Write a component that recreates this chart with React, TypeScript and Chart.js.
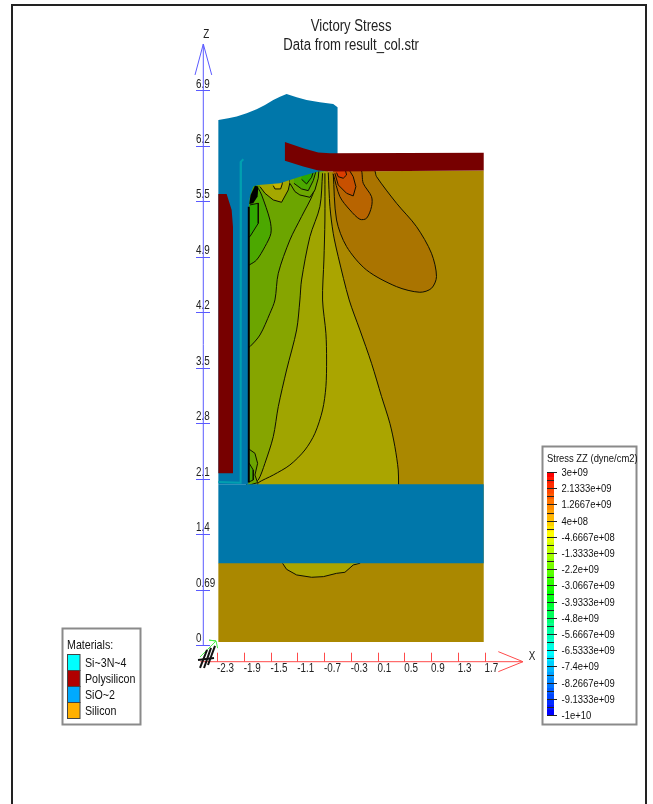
import React, { useEffect, useRef } from "react";
import { Chart, registerables } from "chart.js";

Chart.register(...registerables);

type Pt = [number, number];

const titleLines = ["Victory Stress", "Data from result_col.str"];
const xTickValues = [-2.3, -1.9, -1.5, -1.1, -0.7, -0.3, 0.1, 0.5, 0.9, 1.3, 1.7];
const xTickLabels = ["-2.3", "-1.9", "-1.5", "-1.1", "-0.7", "-0.3", "0.1", "0.5", "0.9", "1.3", "1.7"];
const zTickValues = [0, 0.69, 1.38, 2.07, 2.76, 3.45, 4.14, 4.83, 5.52, 6.21, 6.9];
const zTickLabels = ["0", "0.69", "1.4", "2.1", "2.8", "3.5", "4.2", "4.9", "5.5", "6.2", "6.9"];
const materialNames = ["Si~3N~4", "Polysilicon", "SiO~2", "Silicon"];
const materialColors = ["#00ffff", "#b00000", "#00aaff", "#ffb000"];
const stressLabels = ["3e+09", "2.1333e+09", "1.2667e+09", "4e+08", "-4.6667e+08", "-1.3333e+09", "-2.2e+09", "-3.0667e+09", "-3.9333e+09", "-4.8e+09", "-5.6667e+09", "-6.5333e+09", "-7.4e+09", "-8.2667e+09", "-9.1333e+09", "-1e+10"];

// material outlines (x, z)
const silicon: Pt[] = [[-1.683, 5.722], [-1.359, 5.742], [-1.061, 5.825], [-0.787, 5.888], [-0.612, 5.888], [1.687, 5.9], [1.687, 0.037], [-2.28, 0.037], [-2.28, 1.02], [-1.832, 1.02], [-1.832, 2.0], [-1.832, 5.369], [-1.808, 5.577], [-1.758, 5.701]];
const oxideUpper: Pt[] = [[-2.28, 6.53], [-2.131, 6.551], [-2.006, 6.572], [-1.857, 6.613], [-1.708, 6.663], [-1.583, 6.717], [-1.459, 6.779], [-1.359, 6.82], [-1.26, 6.854], [-1.11, 6.812], [-0.961, 6.779], [-0.762, 6.75], [-0.563, 6.729], [-0.498, 6.688], [-0.498, 5.9], [-0.787, 5.888], [-1.061, 5.825], [-1.359, 5.742], [-1.683, 5.722], [-1.758, 5.701], [-1.808, 5.577], [-1.832, 5.369], [-1.832, 2.0], [-2.28, 2.0]];
const oxideBand: Pt[] = [[-2.28, 2.0], [1.687, 2.0], [1.687, 1.016], [-2.28, 1.016]];
const polyRight: Pt[] = [[-1.285, 6.256], [-1.011, 6.178], [-0.787, 6.124], [-0.612, 6.116], [1.687, 6.123], [1.687, 5.9], [-0.612, 5.888], [-0.787, 5.9], [-1.011, 5.95], [-1.285, 6.024]];
const polyLeft: Pt[] = [[-2.28, 5.61], [-2.156, 5.61], [-2.081, 5.411], [-2.061, 5.203], [-2.061, 2.135], [-2.28, 2.135]];
const nitride: Pt[] = [[-1.907, 6.041], [-1.942, 6.012], [-1.947, 2.019], [-2.28, 2.027]];

// stress contours (x, z)
const wallTop: Pt[] = [[-1.85, 1.98], [-1.85, 5.45], [-1.75, 5.8], [-1.36, 5.85], [-1.06, 5.95], [-0.64, 6.0]];
const contourA: Pt[] = [[-0.637, 5.875], [-0.612, 5.452], [-0.563, 5.121], [-0.488, 4.83], [-0.324, 4.291], [-0.164, 3.918], [0.01, 3.503], [0.16, 3.089], [0.284, 2.757], [0.359, 2.467], [0.409, 2.177], [0.414, 2.002], [0.414, 1.98]];
const contourB: Pt[] = [[-0.687, 5.867], [-0.687, 5.286], [-0.702, 4.789], [-0.722, 4.291], [-0.672, 3.876], [-0.662, 3.545], [-0.672, 3.213], [-0.722, 2.923], [-0.836, 2.633], [-0.986, 2.425], [-1.21, 2.239], [-1.459, 2.114], [-1.683, 2.019], [-1.7, 1.98]];
const contourC: Pt[] = [[-0.722, 5.867], [-0.762, 5.452], [-0.911, 5.079], [-1.036, 4.54], [-1.061, 4.291], [-1.11, 3.918], [-1.26, 3.42], [-1.384, 2.964], [-1.459, 2.591], [-1.584, 2.259], [-1.683, 2.052], [-1.758, 2.019], [-1.78, 1.98]];
const contourD: Pt[] = [[-0.787, 5.867], [-0.861, 5.618], [-1.036, 5.328], [-1.21, 5.038], [-1.384, 4.623], [-1.434, 4.291], [-1.509, 4.125], [-1.658, 3.856], [-1.808, 3.711], [-1.85, 3.7]];
const contourE: Pt[] = [[-1.683, 5.68], [-1.633, 5.597], [-1.509, 5.286], [-1.494, 5.121], [-1.583, 4.955], [-1.708, 4.789], [-1.818, 4.727], [-1.85, 4.72], [-1.85, 5.45], [-1.75, 5.8]];
const contourE2: Pt[] = [[-1.808, 5.473], [-1.683, 5.494], [-1.683, 5.245], [-1.808, 5.079], [-1.85, 5.07], [-1.85, 5.47]];
const contourF: Pt[] = [[-1.658, 5.701], [-1.583, 5.618], [-1.459, 5.535], [-1.335, 5.506], [-1.235, 5.659], [-1.21, 5.751], [-1.21, 5.85], [-1.658, 5.85]];
const contourF2: Pt[] = [[-1.459, 5.713], [-1.434, 5.672], [-1.349, 5.672], [-1.325, 5.734], [-1.325, 5.8], [-1.459, 5.8]];
const contourG: Pt[] = [[-1.21, 5.742], [-1.135, 5.639], [-1.061, 5.597], [-0.911, 5.568], [-0.836, 5.659], [-0.787, 5.805], [-0.772, 5.95], [-1.21, 5.95]];
const contourH: Pt[] = [[-1.15, 5.742], [-1.036, 5.672], [-0.936, 5.651], [-0.861, 5.776], [-0.822, 5.888], [-0.822, 5.95], [-1.15, 5.95]];
const contourI: Pt[] = [[-1.036, 5.792], [-0.961, 5.734], [-0.886, 5.817], [-0.851, 5.908], [-1.036, 5.908]];
const contourJ: Pt[] = [[-1.85, 2.434], [-1.818, 2.434], [-1.733, 2.384], [-1.693, 2.259], [-1.733, 2.114], [-1.693, 2.019], [-1.85, 1.98]];
const contourK: Pt[] = [[-1.85, 2.259], [-1.818, 2.259], [-1.758, 2.176], [-1.758, 2.052], [-1.818, 2.03], [-1.85, 2.03]];
const orange1: Pt[] = [[-0.563, 5.867], [-0.513, 5.286], [-0.363, 4.955], [-0.065, 4.664], [0.384, 4.457], [0.732, 4.387], [0.906, 4.436], [0.981, 4.582], [0.906, 4.872], [0.682, 5.203], [0.384, 5.494], [0.085, 5.825], [0.035, 5.929], [-0.563, 5.929]];
const orange2: Pt[] = [[-0.563, 5.858], [-0.463, 5.576], [-0.314, 5.411], [-0.164, 5.295], [-0.065, 5.307], [0.01, 5.452], [0.01, 5.576], [-0.114, 5.742], [-0.164, 5.929], [-0.563, 5.929]];
const orange3: Pt[] = [[-0.538, 5.867], [-0.488, 5.722], [-0.363, 5.618], [-0.264, 5.585], [-0.224, 5.701], [-0.264, 5.825], [-0.339, 5.929], [-0.538, 5.929]];
const orange4: Pt[] = [[-0.513, 5.875], [-0.488, 5.825], [-0.413, 5.805], [-0.363, 5.846], [-0.388, 5.929], [-0.513, 5.929]];
const bump: Pt[] = [[-1.32, 1.016], [-1.26, 0.941], [-1.11, 0.871], [-0.886, 0.842], [-0.71, 0.85], [-0.513, 0.891], [-0.388, 0.904], [-0.264, 0.995], [-0.164, 1.016], [-0.164, 1.05], [-1.32, 1.05]];
const blackWall: Pt[] = [[-1.84, 5.45], [-1.81, 5.45], [-1.81, 2.02], [-1.84, 2.02]];
const blackBlob: Pt[] = [[-1.733, 5.713], [-1.683, 5.701], [-1.693, 5.577], [-1.758, 5.494], [-1.818, 5.485], [-1.798, 5.597]];

// axes drawn in the same units
const xAxisLine: Pt[] = [[-2.55, -0.208], [2.274, -0.208]];
const xArrow: Pt[] = [[1.905, -0.083], [2.274, -0.208], [1.905, -0.332]];
const zAxisLine: Pt[] = [[-2.505, 0], [-2.505, 7.475]];
const zArrow: Pt[] = [[-2.629, 7.09], [-2.505, 7.475], [-2.379, 7.09]];
const originMarks: Pt[][] = [
  [[-2.554, -0.286], [-2.449, -0.062]],
  [[-2.494, -0.286], [-2.39, -0.037]],
  [[-2.435, -0.249], [-2.33, -0.012]],
  [[-2.584, -0.187], [-2.345, -0.162]],
];
const originArrow: Pt[] = [[-2.554, -0.149], [-2.315, 0.05], [-2.42, 0.06], [-2.315, 0.05], [-2.29, -0.04]];

const FONT = '"Liberation Sans", Arial, sans-serif';
const TEXT_SQUEEZE = 0.82;
const BLUE = "#5a5aff";
const RED = "#ff4a4a";

const fillShape = (pts: Pt[], color: string, border = 0, tension = 0) => ({
  data: pts.map(([x, y]) => ({ x, y })),
  showLine: true,
  fill: "shape",
  backgroundColor: color,
  borderColor: border ? "#101000" : color,
  borderWidth: border,
  tension,
  pointRadius: 0,
  clip: false as const,
});
const stroke = (pts: Pt[], color: string, width = 1) => ({
  data: pts.map(([x, y]) => ({ x, y })),
  showLine: true,
  fill: false,
  borderColor: color,
  borderWidth: width,
  pointRadius: 0,
  clip: false as const,
});

const SMOOTH = 0.3;
const painterOrder = [
  fillShape(silicon, "#aa8800"),
  fillShape([...contourA, ...wallTop], "#aaa500", 1, SMOOTH),
  fillShape([...contourB, ...wallTop], "#a0a500", 1, SMOOTH),
  fillShape([...contourC, ...wallTop], "#86a500", 1, SMOOTH),
  fillShape([...contourD, ...wallTop.slice(1)], "#6ca500", 1, SMOOTH),
  fillShape(contourE, "#4ca800", 1, SMOOTH),
  fillShape(contourE2, "#30a800", 1),
  fillShape(contourF, "#a4a800", 1),
  fillShape(contourF2, "#c4b400", 1),
  fillShape(contourG, "#6ca800", 1),
  fillShape(contourH, "#4ca800", 1),
  fillShape(contourI, "#2ca800", 1),
  fillShape(contourJ, "#6ca500", 1),
  fillShape(contourK, "#4ca800", 1),
  fillShape(orange1, "#aa7400", 1, SMOOTH),
  fillShape(orange2, "#b86400", 1, SMOOTH),
  fillShape(orange3, "#c85000", 1),
  fillShape(orange4, "#dc3c00", 1),
  fillShape(bump, "#aaa500", 1),
  fillShape(oxideUpper, "#0077aa"),
  fillShape(oxideBand, "#0077aa"),
  fillShape(polyLeft, "#770000"),
  fillShape(polyRight, "#770000"),
  stroke(nitride, "#00a0b0", 2),
  fillShape(blackWall, "#000000"),
  fillShape(blackBlob, "#000000"),
  stroke(xAxisLine, RED),
  stroke(xArrow, RED),
  stroke(zAxisLine, BLUE),
  stroke(zArrow, BLUE),
  stroke(originArrow, "#44ee44"),
  ...originMarks.map((m) => stroke(m, "#111111", 2)),
];
const datasets = painterOrder.map((d, i) => ({ ...d, order: painterOrder.length - i }));

const box = (ctx: CanvasRenderingContext2D, x: number, y: number, w: number, h: number) => {
  ctx.fillStyle = "#ffffff";
  ctx.fillRect(x, y, w, h);
  ctx.strokeStyle = "#8a8a8a";
  ctx.lineWidth = 2;
  ctx.strokeRect(x, y, w, h);
};

// the reference's labels are a condensed face; no such face is installed
const condensedText = {
  id: "condensedText",
  beforeDraw(chart: any) {
    const ctx = chart.ctx;
    if (ctx.__condensed) return;
    ctx.__condensed = true;
    const draw = ctx.fillText.bind(ctx);
    ctx.fillText = (text: string, x: number, y: number) => {
      ctx.save();
      ctx.translate(x, y);
      ctx.scale(TEXT_SQUEEZE, 1);
      draw(text, 0, 0);
      ctx.restore();
    };
  },
};

const decorations = {
  id: "decorations",
  afterDatasetsDraw(chart: any) {
    const { ctx, scales } = chart;
    const xs = scales.x;
    const zs = scales.y;
    ctx.save();
    // axis tick marks
    ctx.lineWidth = 1;
    ctx.strokeStyle = RED;
    const xBase = zs.getPixelForValue(-0.208);
    xTickValues.forEach((v) => {
      const p = Math.round(xs.getPixelForValue(v)) + 0.5;
      ctx.beginPath();
      ctx.moveTo(p, xBase - 9);
      ctx.lineTo(p, xBase);
      ctx.stroke();
    });
    ctx.strokeStyle = BLUE;
    zTickValues.forEach((v) => {
      const p = Math.round(zs.getPixelForValue(v)) + 0.5;
      ctx.beginPath();
      ctx.moveTo(196, p);
      ctx.lineTo(210, p);
      ctx.stroke();
    });
    // axis names
    ctx.fillStyle = "#222222";
    ctx.font = `12px ${FONT}`;
    ctx.textAlign = "center";
    ctx.textBaseline = "middle";
    ctx.fillText("Z", xs.getPixelForValue(-2.46), zs.getPixelForValue(7.59));
    ctx.fillText("X", xs.getPixelForValue(2.41), zs.getPixelForValue(-0.15));

    // materials legend
    box(ctx, 62.5, 628.5, 78, 96);
    ctx.textAlign = "left";
    ctx.fillStyle = "#111111";
    ctx.font = `13px ${FONT}`;
    ctx.fillText("Materials:", 67, 645);
    materialNames.forEach((name, i) => {
      const top = 654.5 + i * 16;
      ctx.fillStyle = materialColors[i];
      ctx.fillRect(67.5, top, 12.5, 16);
      ctx.strokeStyle = "#444444";
      ctx.lineWidth = 1;
      ctx.strokeRect(67.5, top, 12.5, 16);
      ctx.fillStyle = "#111111";
      ctx.fillText(name, 85, top + 8.5);
    });

    // stress colour bar
    box(ctx, 542.5, 446.5, 94, 278);
    ctx.font = `11.5px ${FONT}`;
    ctx.fillStyle = "#111111";
    ctx.fillText("Stress ZZ (dyne/cm2)", 547, 458.5);
    const top = 472;
    const step = 16.2;
    const intervals = stressLabels.length - 1;
    const bands = intervals * 3;
    for (let i = 0; i < bands; i++) {
      ctx.fillStyle = `hsl(${(i / (bands - 1)) * 240}, 100%, 50%)`;
      ctx.fillRect(547, top + (i * step) / 3, 7, step / 3 + 0.5);
    }
    ctx.strokeStyle = "#222222";
    ctx.lineWidth = 1;
    stressLabels.forEach((label, i) => {
      const y = Math.round(top + i * step) + 0.5;
      ctx.beginPath();
      ctx.moveTo(547, y);
      ctx.lineTo(557, y);
      ctx.stroke();
      if (i < intervals) {
        const m = Math.round(top + (i + 0.5) * step) + 0.5;
        ctx.beginPath();
        ctx.moveTo(547, m);
        ctx.lineTo(554, m);
        ctx.stroke();
      }
      ctx.fillStyle = "#111111";
      ctx.fillText(label, 561.5, y);
    });
    ctx.restore();
  },
};

export default function App() {
  const ref = useRef<HTMLCanvasElement>(null);
  useEffect(() => {
    if (!ref.current) return;
    const chart = new Chart(ref.current, {
      type: "scatter",
      data: { datasets: datasets as any },
      plugins: [condensedText as any, decorations as any],
      options: {
        animation: false,
        responsive: false,
        events: [],
        layout: { padding: { left: 60.3, right: 11, top: 0, bottom: 0 } },
        plugins: {
          legend: { display: false },
          tooltip: { enabled: false },
          title: {
            display: true,
            text: titleLines,
            color: "#222222",
            font: { family: FONT, size: 16, weight: "normal", lineHeight: 1.1875 },
            padding: { top: 17, bottom: 0 },
          },
        },
        scales: {
          x: {
            type: "linear",
            min: -2.505,
            max: 4.053,
            grid: { display: false, drawTicks: false },
            border: { display: false },
            afterFit: (s: any) => { s.height = 142.3; },
            afterBuildTicks: (s: any) => { s.ticks = xTickValues.map((value) => ({ value })); },
            ticks: {
              autoSkip: false,
              maxRotation: 0,
              align: "start",
              padding: 0,
              color: "#222222",
              font: { family: FONT, size: 12 },
              callback: (_v: any, i: number) => xTickLabels[i],
            },
          },
          y: {
            type: "linear",
            min: -0.208,
            max: 7.338,
            grid: { display: false, drawTicks: false },
            border: { display: false },
            afterFit: (s: any) => { s.width = 143; },
            afterBuildTicks: (s: any) => { s.ticks = zTickValues.map((value) => ({ value })); },
            ticks: {
              autoSkip: false,
              mirror: true,
              padding: -7.3,
              align: "end",
              color: "#222222",
              font: { family: FONT, size: 12 },
              callback: (_v: any, i: number) => zTickLabels[i],
            },
          },
        },
      } as any,
    });
    return () => chart.destroy();
  }, []);

  return (
    <div style={{ position: "absolute", left: 0, top: 0, width: 653, height: 804, overflow: "hidden", background: "#ffffff" }}>
      <div
        style={{
          position: "absolute",
          left: 11,
          top: 4,
          width: 636,
          height: 800,
          boxSizing: "border-box",
          borderLeft: "2px solid #222222",
          borderTop: "2px solid #222222",
          borderRight: "2px solid #222222",
        }}
      />
      <canvas ref={ref} width={653} height={804} style={{ position: "absolute", left: 0, top: 0, display: "block" }} />
    </div>
  );
}
